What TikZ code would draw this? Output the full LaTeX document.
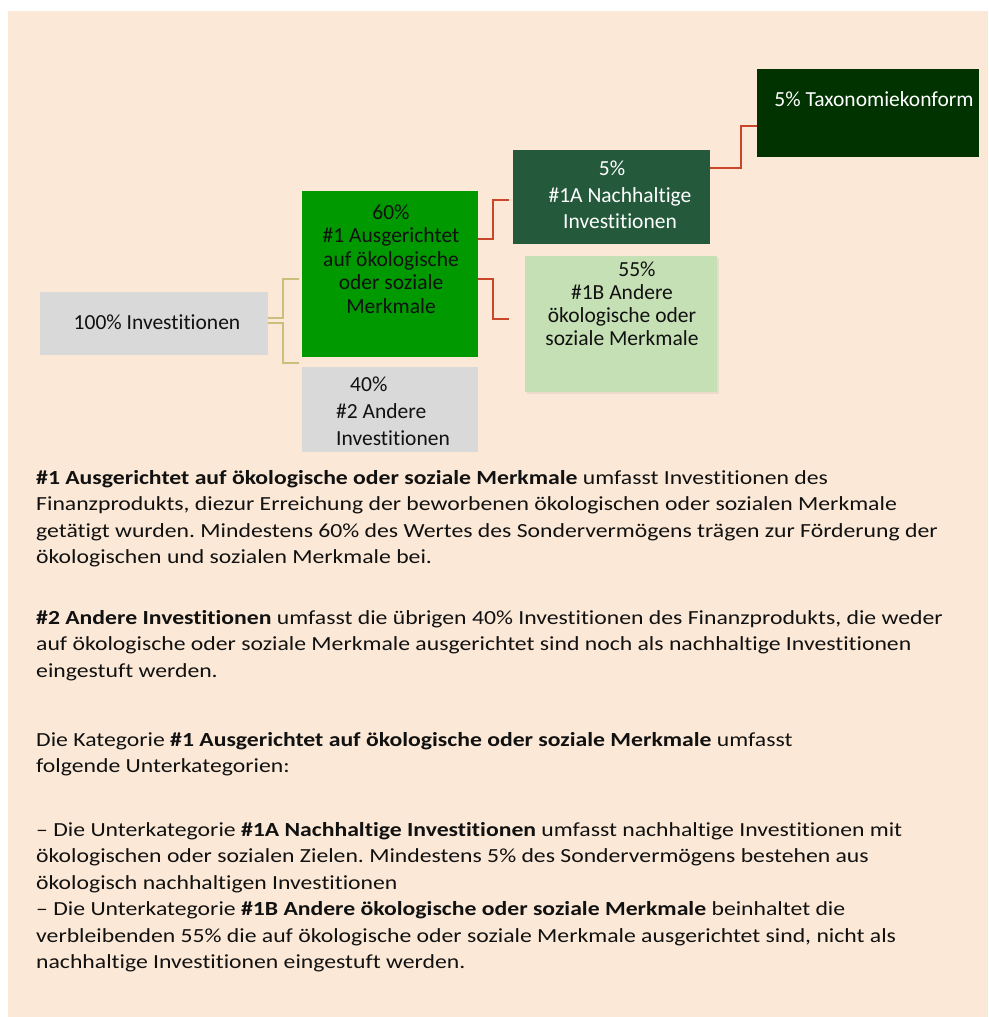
\documentclass[tikz,border=0pt]{standalone}
\usepackage{fontspec}
\setmainfont[Ligatures=NoCommon]{Carlito}
\newfontfamily\parafont[FakeStretch=1.185,Ligatures=NoCommon]{Carlito}
\usetikzlibrary{shadows}
\frenchspacing
\definecolor{peach}{HTML}{FBE8D6}
\definecolor{boxgrey}{HTML}{D9D9D9}
\definecolor{midgreen}{HTML}{009900}
\definecolor{darkgreen}{HTML}{245A3B}
\definecolor{deepgreen}{HTML}{003300}
\definecolor{palegreen}{HTML}{C5E0B4}
\definecolor{tanline}{HTML}{CDBE7E}
\definecolor{redline}{HTML}{C8462A}
\definecolor{txt}{HTML}{111111}
\begin{document}
\begin{tikzpicture}[x=1pt,y=-1pt,
  boxshape/.style={anchor=north west,inner sep=0pt,outer sep=0pt,draw=none},
  boxtext/.style={inner sep=0pt,align=center,font=\fontsize{21.5}{23.5}\selectfont,text=txt},
  paratext/.style={anchor=north west,inner sep=0pt,align=left,font=\parafont\fontsize{20}{26.5}\selectfont,text=txt},
  tanconn/.style={draw=tanline,line width=2pt},
  redconn/.style={draw=redline,line width=2pt}]
\useasboundingbox (0,0) rectangle (988,1017);
\fill[white] (0,0) rectangle (988,1017);
\fill[peach] (8,11) rectangle (988,1017);

% boxes
\node[boxshape,fill=boxgrey,minimum width=228pt,minimum height=63pt] (inv) at (40,292) {};
\node[boxshape,fill=midgreen,minimum width=176pt,minimum height=166pt] (one) at (302,191) {};
\node[boxshape,fill=boxgrey,minimum width=176pt,minimum height=85pt] (two) at (302,367) {};
\node[boxshape,fill=darkgreen,minimum width=197pt,minimum height=94pt] (oneA) at (513,150) {};
\node[boxshape,fill=palegreen,minimum width=192pt,minimum height=136pt,
  drop shadow={opacity=0.12,shadow xshift=2pt,shadow yshift=-2pt}] (oneB) at (525,256) {};
\node[boxshape,fill=deepgreen,minimum width=222pt,minimum height=88pt] (tax) at (757,69) {};

% box texts
\node[boxtext] (invt) at (157,322) {100\% Investitionen};
\node[boxtext] (onet) at (391,259) {60\%\\\#1 Ausgerichtet\\auf ökologische\\oder soziale\\Merkmale};
\node[boxtext,text=white,font=\fontsize{21.5}{26.5}\selectfont] (oneAt) at (620,195) {5\%\hspace*{16pt}\\\#1A Nachhaltige\\Investitionen};
\node[boxtext,font=\fontsize{21.5}{23}\selectfont] (oneBt) at (622,304) {\hspace*{30pt}55\%\\\#1B Andere\\ökologische oder\\soziale Merkmale};
\node[boxtext,align=left,anchor=west,font=\fontsize{21.5}{27}\selectfont] (twot) at (336,411) {\hspace*{14pt}40\%\\\#2 Andere\\Investitionen};
\node[boxtext,text=white] (taxt) at (874,99) {5\% Taxonomiekonform};

% connectors
\draw[tanconn] (inv.east |- 0,318) -- (283,318) |- (299,279);
\draw[tanconn] (inv.east |- 0,323) -- (283,323) |- (299,363);
\draw[redconn] (one.east |- 0,239) -- (493,239) |- (509,200);
\draw[redconn] (one.east |- 0,279) -- (493,279) |- (509,319);
\draw[redconn] (oneA.east |- 0,168) -- (741,168) |- (tax.west |- 0,126);

% paragraphs
\node[paratext] (p1) at (36,470) {\textbf{\#1 Ausgerichtet auf ökologische oder soziale Merkmale} umfasst Investitionen des\\
Finanzprodukts, diezur Erreichung der beworbenen ökologischen oder sozialen Merkmale\\
getätigt wurden. Mindestens 60\% des Wertes des Sondervermögens trägen zur Förderung der\\
ökologischen und sozialen Merkmale bei.};
\node[paratext] (p2) at (36,610) {\textbf{\#2 Andere Investitionen} umfasst die übrigen 40\% Investitionen des Finanzprodukts, die weder\\
auf ökologische oder soziale Merkmale ausgerichtet sind noch als nachhaltige Investitionen\\
eingestuft werden.};
\node[paratext] (p3) at (36,732) {Die Kategorie \textbf{\#1 Ausgerichtet auf ökologische oder soziale Merkmale} umfasst\\
folgende Unterkategorien:};
\node[paratext] (p4) at (36,822) {– Die Unterkategorie \textbf{\#1A Nachhaltige Investitionen} umfasst nachhaltige Investitionen mit\\
ökologischen oder sozialen Zielen. Mindestens 5\% des Sondervermögens bestehen aus\\
ökologisch nachhaltigen Investitionen\\
– Die Unterkategorie \textbf{\#1B Andere ökologische oder soziale Merkmale} beinhaltet die\\
verbleibenden 55\% die auf ökologische oder soziale Merkmale ausgerichtet sind, nicht als\\
nachhaltige Investitionen eingestuft werden.};
\end{tikzpicture}
\end{document}
